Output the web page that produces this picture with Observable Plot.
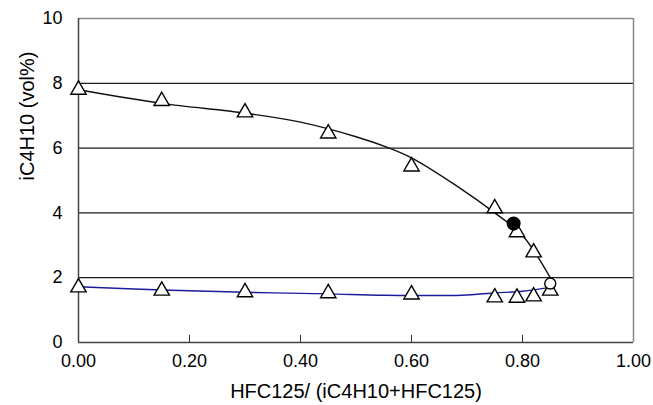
<!DOCTYPE html>
<html><head><meta charset="utf-8">
<script src="https://cdn.jsdelivr.net/npm/d3@7"></script>
<script src="https://cdn.jsdelivr.net/npm/@observablehq/plot@0.6"></script>
<style>
body{margin:0;background:#fff;}
#chart svg{font-family:"Liberation Sans",Arial,sans-serif;}
</style>
</head><body><div id="chart"></div>
<script>
// Upper (black) series: measured triangles
const upperX = [0, 0.15, 0.30, 0.45, 0.60, 0.75, 0.79, 0.82];
const upperY = [7.8, 7.45, 7.1, 6.45, 5.43, 4.14, 3.4, 2.78];
// Lower (blue) series: measured triangles
const lowerX = [0, 0.15, 0.30, 0.45, 0.60, 0.75, 0.79, 0.82, 0.85];
const lowerY = [1.7, 1.6, 1.55, 1.52, 1.48, 1.39, 1.38, 1.42, 1.6];
// Fitted curves
const curveUpperX = [0, 0.15, 0.30, 0.40, 0.50, 0.56, 0.60, 0.68, 0.75, 0.80, 0.85];
const curveUpperY = [7.8, 7.38, 7.08, 6.8, 6.35, 6.0, 5.7, 4.85, 4.0, 3.3, 2.0];
const curveLowerX = [0, 0.15, 0.30, 0.45, 0.55, 0.69, 0.75, 0.80, 0.85];
const curveLowerY = [1.72, 1.62, 1.55, 1.5, 1.46, 1.46, 1.53, 1.58, 1.7];
// Special points
const filledX = [0.784];
const filledY = [3.67];
const openX = [0.85];
const openY = [1.82];
// Axes
const xTicks = [0, 0.2, 0.4, 0.6, 0.8, 1.0];
const yTicks = [0, 2, 4, 6, 8, 10];
const gridY = [2, 4, 6, 8];
const xLabel = "HFC125/ (iC4H10+HFC125)";
const yLabel = "iC4H10 (vol%)";

const zip = (xs, ys) => xs.map((x, i) => ({x, y: ys[i]}));
const upper = zip(upperX, upperY);
const lower = zip(lowerX, lowerY);
const cUpper = zip(curveUpperX, curveUpperY);
const cLower = zip(curveLowerX, curveLowerY);
const filled = zip(filledX, filledY);
const open = zip(openX, openY);

const chart = Plot.plot({
  width: 653,
  height: 405,
  marginLeft: 78,
  marginRight: 20,
  marginTop: 18,
  marginBottom: 63,
  style: {fontSize: "18px", fontFamily: "'Liberation Sans', Arial, sans-serif", color: "#000", background: "#fff"},
  x: {domain: [0, 1], ticks: xTicks, tickFormat: d => d.toFixed(2), tickSize: 0, tickPadding: 12, label: null},
  y: {domain: [0, 10], ticks: yTicks, tickFormat: d => String(d), tickSize: 0, tickPadding: 16, label: null},
  marks: [
    Plot.ruleY(gridY, {stroke: "#1a1a1a", strokeWidth: 1.2}),
    Plot.ruleY([yTicks[yTicks.length - 1]], {stroke: "#888", strokeWidth: 1.5}),
    Plot.ruleX([xTicks[xTicks.length - 1]], {stroke: "#888", strokeWidth: 1.5}),
    Plot.ruleX(xTicks.slice(1, -1), {y1: 0, y2: 0.22, stroke: "#333", strokeWidth: 1}),
    Plot.ruleY([0], {stroke: "#444", strokeWidth: 1.5}),
    Plot.ruleX([0], {stroke: "#444", strokeWidth: 1.5}),
    Plot.line(cLower, {x: "x", y: "y", stroke: "#1c1c9c", strokeWidth: 1.4, curve: "catmull-rom"}),
    Plot.line(cUpper, {x: "x", y: "y", stroke: "#111", strokeWidth: 1.4, curve: "catmull-rom"}),
    Plot.dot(upper, {x: "x", y: "y", symbol: "triangle", r: 5.7, fill: "#fff", stroke: "#000", strokeWidth: 1.4}),
    Plot.dot(lower, {x: "x", y: "y", symbol: "triangle", r: 5.7, fill: "#fff", stroke: "#000", strokeWidth: 1.4}),
    Plot.dot(filled, {x: "x", y: "y", r: 6.3, fill: "#000", stroke: "#000"}),
    Plot.dot(open, {x: "x", y: "y", r: 5.5, fill: "#fff", stroke: "#000", strokeWidth: 1.4}),
    Plot.text([xLabel], {frameAnchor: "bottom", lineAnchor: "middle", dy: 49, fontSize: 20, fill: "#000"}),
    Plot.text([yLabel], {frameAnchor: "left", lineAnchor: "middle", rotate: -90, dx: -51, fontSize: 20, fill: "#000"})
  ]
});
document.getElementById("chart").appendChild(chart);
</script>
</body></html>
